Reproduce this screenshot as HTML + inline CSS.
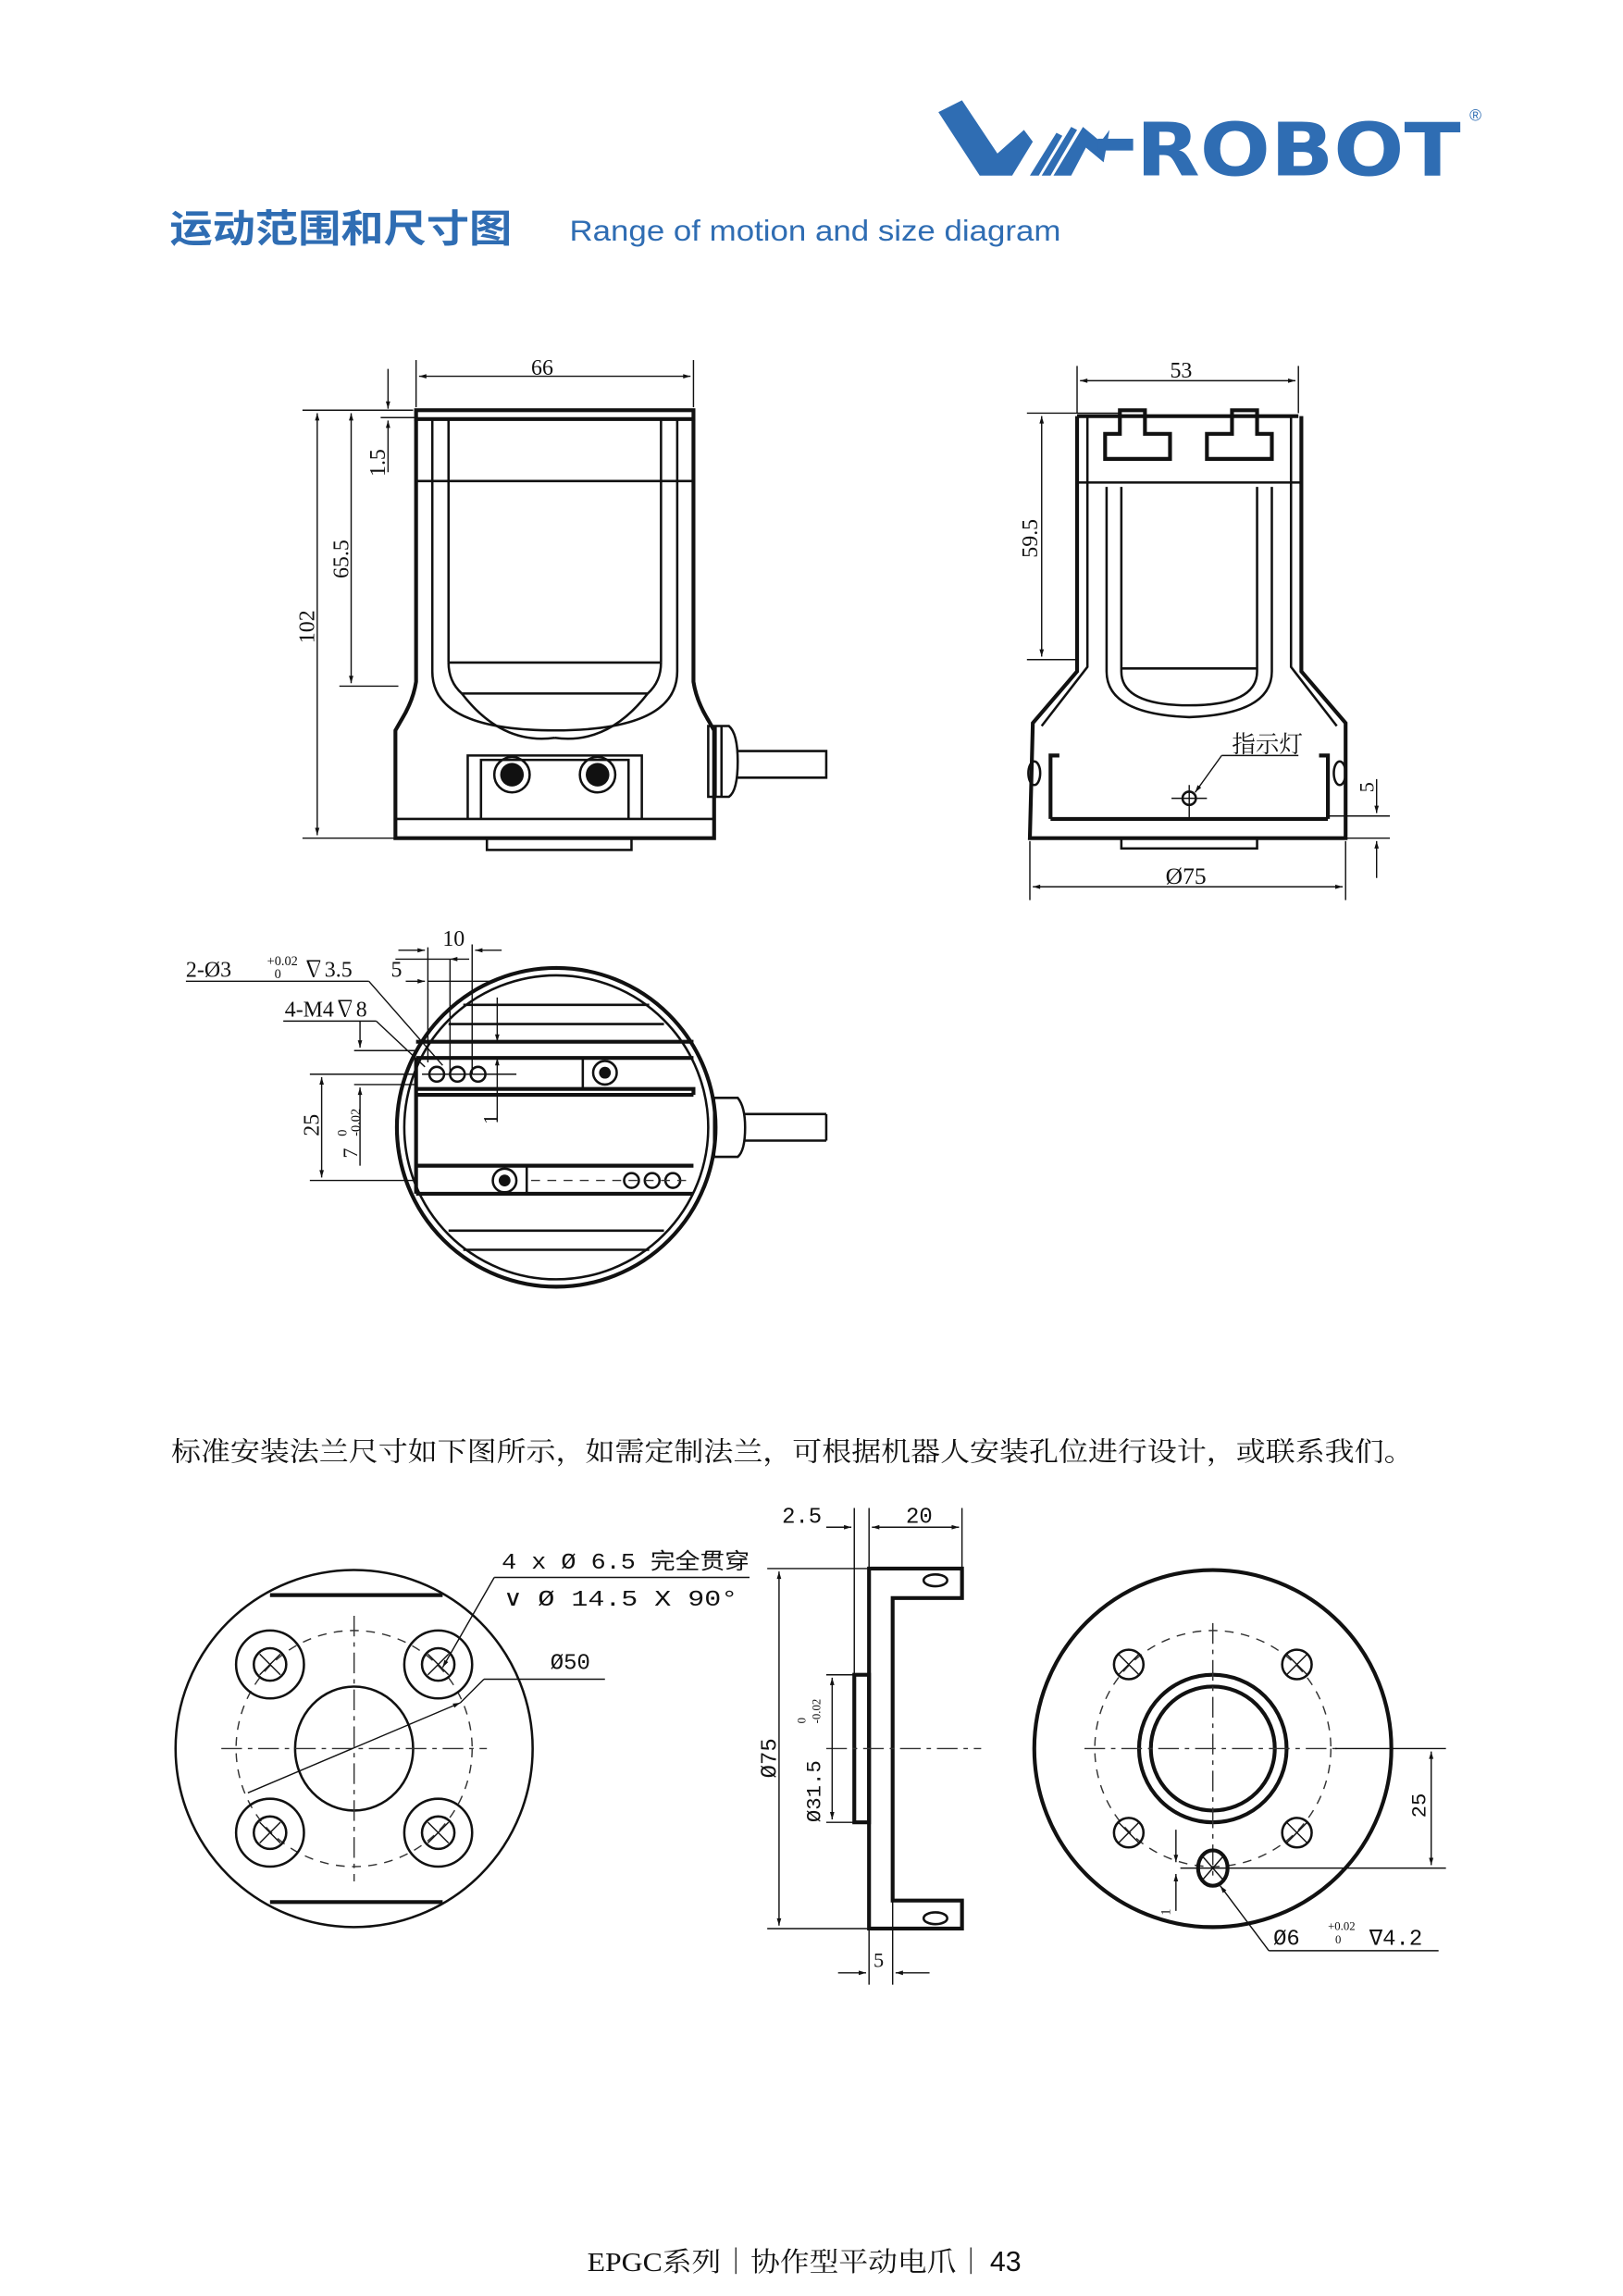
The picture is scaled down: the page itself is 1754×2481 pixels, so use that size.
<!DOCTYPE html>
<html><head><meta charset="utf-8"><style>
html,body{margin:0;padding:0;background:#fff;}
svg{display:block;}
text{font-family:"Liberation Serif","Noto Serif CJK SC",serif;fill:#111;}
.s{fill:none;stroke:#111;stroke-width:1.6;}
.t{fill:none;stroke:#111;stroke-width:2.6;}
.f{fill:none;stroke:#111;stroke-width:0.9;}
.d{fill:none;stroke:#333;stroke-width:0.9;stroke-dasharray:14 4 3 4;}
.dd{fill:none;stroke:#333;stroke-width:0.9;stroke-dasharray:6 5;}
</style></head><body>
<svg width="1754" height="2481" viewBox="0 0 1100 1556" preserveAspectRatio="none" xmlns="http://www.w3.org/2000/svg">
<defs>
<marker id="a" viewBox="0 0 10 10" refX="10" refY="5" markerWidth="9" markerHeight="5" orient="auto-start-reverse" markerUnits="userSpaceOnUse"><path d="M0,2 L10,5 L0,8z" fill="#111"/></marker>
</defs>
<!-- Logo -->
<g fill="#2f6db3">
<path d="M636,76 L652,68 L676,104 L694,88 L700,96 L686,119 L664,119 Z"/>
<path d="M698,119 L716,90 L720,92 L704,119 Z"/>
<path d="M706,119 L726,86 L730,88 L712,119 Z"/>
<path d="M714,119 L734,86 L746,96 L752,88 L748,110 L736,100 L726,119 Z"/>
<rect x="744" y="94" width="24" height="8"/>
</g>
<text x="770" y="119" style="font-family:'DejaVu Sans','Liberation Sans',sans-serif;font-weight:bold;font-size:50px;fill:#2f6db3" textLength="220" lengthAdjust="spacingAndGlyphs">ROBOT</text>
<text x="996" y="82" style="font-family:'Liberation Sans',sans-serif;font-size:11px;fill:#2f6db3">®</text>
<text x="115" y="164" style="font-family:'Liberation Sans','Noto Sans CJK SC',sans-serif;font-weight:bold;font-size:26px;fill:#2f6db3" textLength="232" lengthAdjust="spacingAndGlyphs">运动范围和尺寸图</text>
<text x="386" y="163" style="font-family:'Liberation Sans',sans-serif;font-size:20px;fill:#2f6db3" textLength="333" lengthAdjust="spacingAndGlyphs">Range of motion and size diagram</text>

<!-- View 1 front -->
<g>
<rect x="282" y="278" width="188" height="6" class="t"/>
<path class="t" d="M282,284 L282,462 Q280,475 272,488 L268,495 L268,568 L484,568 L484,495 L480,488 Q472,475 470,462 L470,284"/>
<path class="s" d="M293,284 L293,455 Q293,495 376,495 Q459,495 459,455 L459,284"/>
<path class="s" d="M304,284 L304,449 M448,284 L448,449"/>
<line x1="282" y1="326" x2="470" y2="326" class="s"/>
<line x1="304" y1="449" x2="448" y2="449" class="s"/>
<path class="s" d="M304,449 Q304,462 313,470 M448,449 Q448,462 439,470"/>
<path class="s" d="M313,470 L439,470 M313,470 Q340,505 376,500 M439,470 Q412,505 376,500" />
<path class="s" d="M317,555 L317,512 L435,512 L435,555 M326,555 L326,515 L426,515 L426,555"/>
<line x1="268" y1="555" x2="484" y2="555" class="s"/>
<circle cx="347" cy="525" r="12" class="s"/><circle cx="347" cy="525" r="8" fill="#111"/>
<circle cx="405" cy="525" r="12" class="s"/><circle cx="405" cy="525" r="8" fill="#111"/>
<rect x="330" y="568" width="98" height="8" class="s"/>
<path class="s" d="M480,492 L494,492 Q500,497 500,516 Q500,536 494,540 L480,540 Z M485,492 L485,540 M489,492 L489,540"/>
<path class="s" d="M500,509 L560,509 L560,527 L500,527"/>
<!-- dims -->
<line x1="282" y1="244" x2="282" y2="276" class="f"/><line x1="470" y1="244" x2="470" y2="276" class="f"/>
<line x1="284" y1="255" x2="468" y2="255" class="f" marker-start="url(#a)" marker-end="url(#a)"/>
<text x="360" y="254" font-size="15">66</text>
<line x1="205" y1="278" x2="280" y2="278" class="f"/><line x1="205" y1="568" x2="268" y2="568" class="f"/>
<line x1="215" y1="280" x2="215" y2="566" class="f" marker-start="url(#a)" marker-end="url(#a)"/>
<text transform="translate(213,436) rotate(-90)" font-size="15">102</text>
<line x1="230" y1="465" x2="270" y2="465" class="f"/>
<line x1="238" y1="280" x2="238" y2="463" class="f" marker-start="url(#a)" marker-end="url(#a)"/>
<text transform="translate(236,392) rotate(-90)" font-size="15">65.5</text>
<line x1="258" y1="283" x2="282" y2="283" class="f"/>
<line x1="263" y1="250" x2="263" y2="277" class="f" marker-end="url(#a)"/>
<line x1="263" y1="320" x2="263" y2="285" class="f" marker-end="url(#a)"/>
<text transform="translate(261,323) rotate(-90)" font-size="15">1.5</text>
</g>

<!-- View 2 side -->
<g>
<path class="t" d="M730,282 L880,282 M730,282 L730,455 L700,490 L698,568 L912,568 L912,490 L882,455 L882,282"/>
<path class="s" d="M737,282 L737,452 L706,492 M875,282 L875,452 L906,492"/>
<line x1="730" y1="327" x2="882" y2="327" class="s"/>
<path class="s" d="M750,330 L750,455 Q750,484 806,486 Q862,484 862,455 L862,330 M760,330 L760,455 Q760,478 806,478 Q852,478 852,455 L852,330 M760,453 L852,453"/>
<path class="t" d="M759,278 L776,278 L776,294 L793,294 L793,311 L749,311 L749,294 L759,294 Z"/>
<path class="t" d="M852,278 L835,278 L835,294 L818,294 L818,311 L862,311 L862,294 L852,294 Z"/>
<path class="t" d="M712,555 L712,512 L718,512 M900,555 L900,512 L894,512 M712,555 L900,555"/>
<ellipse cx="701" cy="524" rx="4" ry="8" class="s"/><ellipse cx="908" cy="524" rx="4" ry="8" class="s"/>
<rect x="760" y="568" width="92" height="7" class="s"/>
<circle cx="806" cy="541" r="4.5" class="s"/>
<line x1="794" y1="541" x2="818" y2="541" class="f"/><line x1="806" y1="532" x2="806" y2="555" class="f"/>
<line x1="828" y1="512" x2="810" y2="537" class="f" marker-end="url(#a)"/><line x1="828" y1="512" x2="880" y2="512" class="f"/>
<text x="835" y="510" font-size="16">指示灯</text>
<line x1="730" y1="248" x2="730" y2="280" class="f"/><line x1="880" y1="248" x2="880" y2="280" class="f"/>
<line x1="732" y1="258" x2="878" y2="258" class="f" marker-start="url(#a)" marker-end="url(#a)"/>
<text x="793" y="256" font-size="15">53</text>
<line x1="696" y1="280" x2="758" y2="280" class="f"/><line x1="696" y1="447" x2="730" y2="447" class="f"/>
<line x1="706" y1="282" x2="706" y2="445" class="f" marker-start="url(#a)" marker-end="url(#a)"/>
<text transform="translate(703,378) rotate(-90)" font-size="15">59.5</text>
<line x1="698" y1="570" x2="698" y2="610" class="f"/><line x1="912" y1="570" x2="912" y2="610" class="f"/>
<line x1="700" y1="601" x2="910" y2="601" class="f" marker-start="url(#a)" marker-end="url(#a)"/>
<text x="790" y="599" font-size="16">Ø75</text>
<line x1="900" y1="553" x2="942" y2="553" class="f"/><line x1="912" y1="568" x2="942" y2="568" class="f"/>
<line x1="933" y1="528" x2="933" y2="551" class="f" marker-end="url(#a)"/>
<line x1="933" y1="595" x2="933" y2="570" class="f" marker-end="url(#a)"/>
<text transform="translate(931,537) rotate(-90)" font-size="14">5</text>
</g>

<!-- View 3 bottom -->
<g>
<circle cx="377" cy="764" r="108" class="t"/>
<circle cx="377" cy="764" r="103" class="s"/>
<path class="s" d="M314,681 L440,681 M304,694 L450,694 M314,847 L440,847 M304,834 L450,834"/>
<path class="t" d="M282,706 L470,706 M282,717 L470,717 M282,738 L470,738 L470,742 M282,742 L470,742 M282,790 L470,790 M282,809 L470,809 M282,717 L282,809"/>
<path class="s" d="M395,717 L395,738 M357,790 L357,809"/>
<circle cx="296" cy="728" r="5" class="s"/><circle cx="310" cy="728" r="5" class="s"/><circle cx="324" cy="728" r="5" class="s"/>
<circle cx="410" cy="727" r="8" class="s"/><circle cx="410" cy="727" r="4" fill="#111"/>
<circle cx="342" cy="800" r="8" class="s"/><circle cx="342" cy="800" r="4" fill="#111"/>
<circle cx="428" cy="800" r="5" class="s"/><circle cx="442" cy="800" r="5" class="s"/><circle cx="456" cy="800" r="5" class="s"/>
<line x1="286" y1="728" x2="350" y2="728" class="f"/><line x1="360" y1="800" x2="470" y2="800" class="dd"/>
<path class="s" d="M484,744 L500,744 Q505,750 505,764 Q505,780 500,784 L484,784 Z M560,755 L505,755 M560,773 L505,773 M560,755 L560,773"/>
<!-- dims -->
<path class="f" d="M290,642 L290,720 M305,650 L305,728 M320,640 L320,728"/>
<line x1="268" y1="650" x2="305" y2="650" class="f"/><line x1="305" y1="650" x2="318" y2="650" class="f" marker-start="url(#a)"/>
<line x1="275" y1="665" x2="288" y2="665" class="f" marker-end="url(#a)"/><line x1="290" y1="665" x2="335" y2="665" class="f"/>
<line x1="322" y1="644" x2="340" y2="644" class="f" marker-start="url(#a)"/><line x1="270" y1="644" x2="288" y2="644" class="f" marker-end="url(#a)"/>
<text x="300" y="641" font-size="15">10</text>
<text x="265" y="662" font-size="15">5</text>
<text x="126" y="662" font-size="15">2-Ø3</text>
<text x="181" y="654" font-size="9">+0.02</text><text x="186" y="663" font-size="9">0</text>
<text x="205" y="662" font-size="15">∇3.5</text>
<line x1="126" y1="665" x2="250" y2="665" class="f"/><line x1="250" y1="665" x2="300" y2="722" class="f"/>
<text x="193" y="689" font-size="15">4-M4∇8</text>
<line x1="192" y1="692" x2="255" y2="692" class="f"/><line x1="255" y1="692" x2="288" y2="723" class="f"/>
<line x1="240" y1="712" x2="282" y2="712" class="f"/><line x1="240" y1="735" x2="282" y2="735" class="f"/>
<line x1="244" y1="692" x2="244" y2="710" class="f" marker-end="url(#a)"/>
<line x1="244" y1="790" x2="244" y2="737" class="f" marker-end="url(#a)"/>
<text transform="translate(242,785) rotate(-90)" font-size="14">7</text>
<text transform="translate(235,770) rotate(-90)" font-size="9">0</text>
<text transform="translate(244,770) rotate(-90)" font-size="9">-0.02</text>
<line x1="210" y1="728" x2="282" y2="728" class="f"/><line x1="210" y1="800" x2="282" y2="800" class="f"/>
<line x1="218" y1="730" x2="218" y2="798" class="f" marker-start="url(#a)" marker-end="url(#a)"/>
<text transform="translate(216,770) rotate(-90)" font-size="15">25</text>
<line x1="337" y1="706" x2="337" y2="676" class="f" marker-start="url(#a)"/>
<line x1="337" y1="717" x2="337" y2="760" class="f" marker-start="url(#a)"/>
<text transform="translate(337,762) rotate(-90)" font-size="14">1</text>
</g>

<text x="116" y="990" font-size="18" textLength="842" lengthAdjust="spacingAndGlyphs">标准安装法兰尺寸如下图所示，如需定制法兰，可根据机器人安装孔位进行设计，或联系我们。</text>

<!-- Flange left -->
<g>
<circle cx="240" cy="1185" r="121" class="s"/>
<path class="t" d="M183,1081 L300,1081 M183,1289 L300,1289"/>
<circle cx="240" cy="1185" r="80" class="dd"/>
<ellipse cx="240" cy="1185" rx="40" ry="42" class="s"/>
<line x1="150" y1="1185" x2="330" y2="1185" class="d"/><line x1="240" y1="1095" x2="240" y2="1275" class="d"/>
<g class="s">
<circle cx="183" cy="1128" r="23"/><circle cx="183" cy="1128" r="11"/>
<circle cx="297" cy="1128" r="23"/><circle cx="297" cy="1128" r="11"/>
<circle cx="183" cy="1242" r="23"/><circle cx="183" cy="1242" r="11"/>
<circle cx="297" cy="1242" r="23"/><circle cx="297" cy="1242" r="11"/>
</g>
<path class="f" d="M176,1121 L190,1135 M190,1121 L176,1135 M290,1121 L304,1135 M304,1121 L290,1135 M176,1235 L190,1249 M190,1235 L176,1249 M290,1235 L304,1249 M304,1235 L290,1249"/>
<line x1="168" y1="1215" x2="312" y2="1154" class="f" marker-end="url(#a)"/>
<line x1="312" y1="1154" x2="328" y2="1138" class="f"/><line x1="328" y1="1138" x2="410" y2="1138" class="f"/>
<text x="373" y="1131" font-size="15" style="font-family:'Liberation Mono',monospace">Ø50</text>
<line x1="335" y1="1069" x2="300" y2="1130" class="f" marker-end="url(#a)"/>
<line x1="335" y1="1069" x2="508" y2="1069" class="f"/>
<text x="340" y="1063" font-size="15" style="font-family:'Liberation Mono','Noto Sans CJK SC',monospace" textLength="168" lengthAdjust="spacingAndGlyphs">4 x Ø 6.5 完全贯穿</text>
<text x="342" y="1088" font-size="15" style="font-family:'Liberation Mono',monospace" textLength="158" lengthAdjust="spacingAndGlyphs">∨ Ø 14.5 X 90°</text>
</g>

<!-- Flange side -->
<g>
<path class="t" d="M589,1063 L652,1063 L652,1083 L605,1083 L605,1288 L652,1288 L652,1307 L589,1307 Z"/>
<line x1="605" y1="1083" x2="652" y2="1083" class="s"/>
<rect x="579" y="1135" width="10" height="100" class="t"/>
<ellipse cx="634" cy="1071" rx="8" ry="4" class="s"/><ellipse cx="634" cy="1300" rx="8" ry="4" class="s"/>
<line x1="560" y1="1185" x2="665" y2="1185" class="d"/>
<line x1="520" y1="1063" x2="589" y2="1063" class="f"/><line x1="520" y1="1307" x2="589" y2="1307" class="f"/>
<line x1="528" y1="1065" x2="528" y2="1305" class="f" marker-start="url(#a)" marker-end="url(#a)"/>
<text transform="translate(526,1205) rotate(-90)" font-size="15" style="font-family:'Liberation Mono',monospace">Ø75</text>
<line x1="560" y1="1135" x2="579" y2="1135" class="f"/><line x1="560" y1="1235" x2="579" y2="1235" class="f"/>
<line x1="564" y1="1137" x2="564" y2="1233" class="f" marker-start="url(#a)" marker-end="url(#a)"/>
<text transform="translate(556,1235) rotate(-90)" font-size="14" style="font-family:'Liberation Mono',monospace">Ø31.5</text>
<text transform="translate(546,1168) rotate(-90)" font-size="8">0</text>
<text transform="translate(556,1168) rotate(-90)" font-size="8">-0.02</text>
<path class="f" d="M579,1022 L579,1135 M589,1022 L589,1063 M652,1022 L652,1063 M589,1307 L589,1345 M605,1288 L605,1345"/>
<line x1="560" y1="1035" x2="577" y2="1035" class="f" marker-end="url(#a)"/>
<line x1="600" y1="1035" x2="591" y2="1035" class="f" marker-end="url(#a)"/>
<line x1="591" y1="1035" x2="650" y2="1035" class="f" marker-end="url(#a)"/>
<text x="530" y="1032" font-size="15" style="font-family:'Liberation Mono',monospace">2.5</text>
<text x="614" y="1032" font-size="15" style="font-family:'Liberation Mono',monospace">20</text>
<line x1="568" y1="1337" x2="587" y2="1337" class="f" marker-end="url(#a)"/>
<line x1="630" y1="1337" x2="607" y2="1337" class="f" marker-end="url(#a)"/>
<text x="592" y="1333" font-size="14">5</text>
</g>

<!-- Flange right -->
<g>
<circle cx="822" cy="1185" r="121" class="t"/>
<circle cx="822" cy="1185" r="80" class="dd"/>
<circle cx="822" cy="1185" r="50" class="t"/>
<circle cx="822" cy="1185" r="42" class="t"/>
<line x1="735" y1="1185" x2="910" y2="1185" class="d"/><line x1="822" y1="1100" x2="822" y2="1275" class="d"/>
<g class="s"><circle cx="765" cy="1128" r="10"/><circle cx="879" cy="1128" r="10"/><circle cx="765" cy="1242" r="10"/><circle cx="879" cy="1242" r="10"/></g>
<path class="f" d="M758,1121 L772,1135 M772,1121 L758,1135 M872,1121 L886,1135 M886,1121 L872,1135 M758,1235 L772,1249 M772,1235 L758,1249 M872,1235 L886,1249 M886,1235 L872,1249"/>
<ellipse cx="822" cy="1266" rx="10" ry="12" class="t"/>
<path class="f" d="M815,1258 L829,1274 M829,1258 L815,1274"/>
<line x1="800" y1="1266" x2="980" y2="1266" class="f"/><line x1="905" y1="1185" x2="980" y2="1185" class="f"/>
<line x1="970" y1="1187" x2="970" y2="1264" class="f" marker-start="url(#a)" marker-end="url(#a)"/>
<text transform="translate(966,1232) rotate(-90)" font-size="14" style="font-family:'Liberation Mono',monospace">25</text>
<line x1="797" y1="1240" x2="797" y2="1262" class="f" marker-end="url(#a)"/>
<line x1="797" y1="1295" x2="797" y2="1270" class="f" marker-end="url(#a)"/>
<text transform="translate(793,1298) rotate(-90)" font-size="9">1</text>
<line x1="860" y1="1322" x2="827" y2="1278" class="f" marker-end="url(#a)"/>
<line x1="860" y1="1322" x2="975" y2="1322" class="f"/>
<text x="863" y="1318" font-size="15" style="font-family:'Liberation Mono',monospace">Ø6</text>
<text x="900" y="1308" font-size="8">+0.02</text><text x="905" y="1317" font-size="8">0</text>
<text x="928" y="1318" font-size="15" style="font-family:'Liberation Mono',monospace">∇4.2</text>
</g>

<text x="398" y="1539" font-size="18" style="font-family:'Liberation Serif','Noto Serif CJK SC',serif" textLength="270" lengthAdjust="spacingAndGlyphs">EPGC系列｜协作型平动电爪｜</text>
<text x="671" y="1539" font-size="19" style="font-family:'Liberation Sans',sans-serif">43</text>
</svg>
</body></html>
